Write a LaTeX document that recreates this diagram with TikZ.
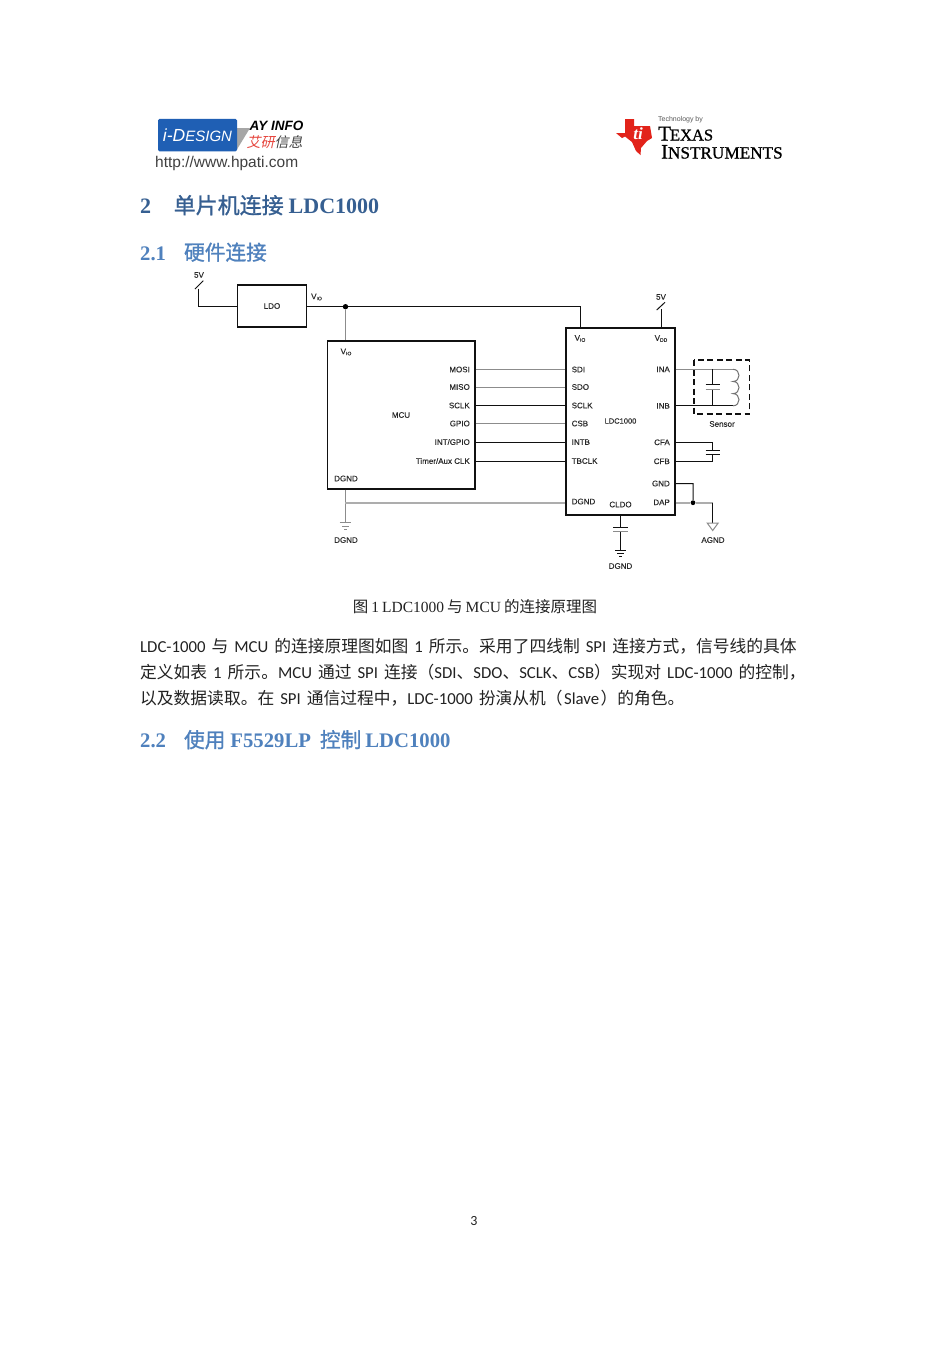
\documentclass[tikz,border=0pt]{standalone}
\usepackage{fontspec}
\setmainfont{Carlito}
\newfontfamily\cjkf{Noto Sans CJK SC}
\newfontfamily\cjkb[FakeBold=1.1]{Noto Sans CJK SC}
\newfontfamily\cjki[FakeSlant=0.22]{Noto Sans CJK SC}
\newfontfamily\arialf{Liberation Sans}
\newfontfamily\pinf[FakeBold=0.25]{Liberation Sans}
\newfontfamily\serf{Liberation Serif}
\newfontfamily\tifont[FakeBold=0.9]{Liberation Serif}
\newcommand\cj[1]{{\cjkf #1}}
\newcommand\cb[1]{{\cjkb\mdseries #1}}
\newcommand\fs[1]{\fontsize{#1}{#1}\selectfont}
\newcommand\vsub[1]{V{\fs{5}\raisebox{-1pt}{#1}}}
\newcommand\wsp{\hspace{6pt}}
\definecolor{hone}{HTML}{365F91}
\definecolor{htwo}{HTML}{4F81BD}
\definecolor{ink}{HTML}{222222}
\definecolor{wire}{HTML}{8C8C8C}
\definecolor{wiredk}{HTML}{111111}
\definecolor{label}{HTML}{2A2A2A}
\definecolor{tired}{HTML}{E2231A}
\definecolor{idblue}{HTML}{1F5FB4}
\tikzset{
  pinlbl/.style={font=\pinf\fs{8}, text=label, inner sep=0pt},
  pinl/.style={pinlbl, anchor=west},
  pinr/.style={pinlbl, anchor=east},
  ctr/.style={pinlbl},
  hwire/.style={line width=1pt, draw=wiredk},
  gwire/.style={line width=1pt, draw=wire},
  gthick/.style={line width=2pt, draw=black!32},
  chip/.style={draw=wiredk, line width=1.9pt, inner sep=0pt},
  plate/.style={line width=1pt, draw=wiredk},
  plateg/.style={line width=1pt, draw=wire},
  dot/.style={circle, fill=black, inner sep=0pt, minimum size=5.4pt},
  bodyline/.style={anchor=base west, inner sep=0pt, font=\fs{16.76}, text=ink},
  hh/.style={anchor=base west, inner sep=0pt, font=\serf\bfseries\fs{22}, text=hone},
  hhh/.style={anchor=base west, inner sep=0pt, font=\serf\bfseries\fs{20.7}, text=htwo},
}
\begin{document}
\begin{tikzpicture}[x=1pt,y=-1pt]
\useasboundingbox[fill=white] (0,0) rectangle (950,1345);

% i-Design logo
\fill[gray!70] (236,128) -- (250,128) -- (236,151) -- cycle;
\node[fill=idblue, rounded corners=1.5pt, minimum width=79pt, minimum height=32.5pt, inner sep=0pt, text=white,
  font=\arialf\itshape\fs{17.5}] (idlogo) at (197.5,135) {i-D{\fs{15}ESIGN}};
\node[inner sep=0pt, font=\arialf\bfseries\itshape\fs{13.5}, anchor=west] (ayinfo) at (249.5,125.5) {AY INFO};
\node[inner sep=0pt, font=\cjki\fs{14}, anchor=west] (aycn) at (246.5,142.5) {\textcolor{tired!85}{艾研}\textcolor{black!75}{信息}};
\node[inner sep=0pt, font=\arialf\fs{15.5}, text=black!75, anchor=west] (url) at (155,163.5) {http://www.hpati.com};

% TI logo
\fill[tired] (625,119) -- (634,119) -- (634,126) -- (650,126) -- (652,138) -- (647,141) -- (641,148) -- (640.5,155)
  -- (636,151) -- (632,142) -- (625,136.5) -- (622,138) -- (616,133) -- (625,133) -- cycle;
\node[inner sep=0pt, text=white, font=\serf\bfseries\itshape\fs{17}] (tiglyph) at (638,134) {ti};
\node[inner sep=0pt, font=\arialf\fs{7}, text=black!65] (tiby) at (680.5,120) {Technology by};
\node[inner sep=0pt, font=\tifont\fs{21}, anchor=base west] (titx) at (658,140.5) {T\hspace{-1pt}{\fs{16.5}EXAS}};
\node[inner sep=0pt, font=\tifont\fs{20.5}, anchor=base west] (tiin) at (661,158.5) {I{\fs{17.2}NSTRUMENTS}};

% headings
\node[hh] (h1) at (140,213.5) {2\hspace{22.5pt}\cb{单片机连接}\hspace{5pt}LDC1000};
\node[hhh] (h2) at (140,260) {2.1\hspace{18pt}\cb{硬件连接}};

% LDO
\node[chip, minimum width=69pt, minimum height=42pt] (ldo) at (272,306) {};
\node[ctr] (ldotxt) at (272,306) {LDO};
\node[ctr, anchor=west] (viotop) at (311,297) {\vsub{IO}};
\coordinate (vline) at (198,306.7);
\coordinate (sup1) at (198,288.5);
\node[ctr] (fivea) at (199,275) {5V};
\draw[hwire] (sup1) -- (vline) -- (ldo.west |- vline);
\draw[hwire] (195,289) -- (203.3,280.7);

% MCU
\node[chip, line width=1.2pt, minimum width=147.5pt, minimum height=148pt] (mcu) at (401.25,415) {};
\node[ctr] (mcutxt) at (401,415) {MCU};
\node[ctr] (mcuvio) at (346,352) {\vsub{IO}};
\node[pinr] (mMOSI) at (470,369.5) {MOSI};
\node[pinr] (mMISO) at (470,387) {MISO};
\node[pinr] (mSCLK) at (470,405.5) {SCLK};
\node[pinr] (mGPIO) at (470,423.5) {GPIO};
\node[pinr] (mINT) at (470,442) {INT/GPIO};
\node[pinr] (mTIM) at (470,461) {Timer/Aux CLK};
\node[pinl] (mDGND) at (334,478.5) {DGND};

% LDC1000
\node[chip, minimum width=108.7pt, minimum height=187.6pt] (ldc) at (620.35,421.5) {};
\node[ctr, font=\pinf\fs{7.5}] (ldctxt) at (620.5,421) {LDC1000};
\node[ctr] (lvio) at (580,338.5) {\vsub{IO}};
\node[ctr] (lvdd) at (661,338.5) {\vsub{DD}};
\node[pinl] (lSDI) at (571.5,369.5) {SDI};
\node[pinl] (lSDO) at (571.5,387) {SDO};
\node[pinl] (lSCLK) at (571.5,405.5) {SCLK};
\node[pinl] (lCSB) at (571.5,423.5) {CSB};
\node[pinl] (lINTB) at (571.5,442) {INTB};
\node[pinl] (lTB) at (571.5,461) {TBCLK};
\node[pinl] (lDGND) at (571.5,501.5) {DGND};
\node[ctr] (lCLDO) at (620.5,504.5) {CLDO};
\node[pinr] (lINA) at (670,369.3) {INA};
\node[pinr] (lINB) at (670,405.8) {INB};
\node[pinr] (lCFA) at (670,442.3) {CFA};
\node[pinr] (lCFB) at (670,461.3) {CFB};
\node[pinr] (lGND) at (670,483.5) {GND};
\node[pinr] (lDAP) at (670,502.3) {DAP};

% power rail
\node[dot] (j1) at (345.5,306.7) {};
\coordinate (railend) at (580,306.7);
\draw[hwire] (ldo.east |- j1) -- (j1) -- (railend) -- (railend |- ldc.north);
\draw[gwire] (j1) -- (j1 |- mcu.north);

% 5V at VDD
\coordinate (sup2) at (661.3,309);
\node[ctr] (fiveb) at (661,297) {5V};
\draw[hwire] (sup2) -- (sup2 |- ldc.north);
\draw[hwire] (656.7,310) -- (665,302.3);

% signals
\draw[gwire] (mcu.east |- mMOSI) -- (ldc.west |- lSDI);
\draw[gwire] (mcu.east |- mMISO) -- (ldc.west |- lSDO);
\draw[hwire] (mcu.east |- mSCLK) -- (ldc.west |- lSCLK);
\draw[gwire] (mcu.east |- mGPIO) -- (ldc.west |- lCSB);
\draw[hwire] (mcu.east |- mINT) -- (ldc.west |- lINTB);
\draw[hwire] (mcu.east |- mTIM) -- (ldc.west |- lTB);

% DGND of MCU
\coordinate (g1) at (345,522.7);
\coordinate (g1j) at (345,503);
\draw[gwire] (g1 |- mcu.south) -- (g1);
\draw[gthick] (g1j) -- (ldc.west |- g1j);
\draw[plateg] (339.5,522.7) -- (351,522.7) (342,526) -- (348.5,526) (344,529) -- (346.5,529);
\node[ctr] (dgnda) at (346,540) {DGND};

% sensor
\draw[dash pattern=on 6pt off 3.5pt, line width=1.3pt, draw=wiredk] (694,360) rectangle (749.3,414);
\node[ctr] (sensor) at (722,424) {Sensor};
\coordinate (cs) at (712.7,369.3);
\coordinate (csb) at (712.7,405.8);
\coordinate (ind) at (733,369.3);
\coordinate (ind2) at (733,381.47);
\coordinate (ind3) at (733,393.63);
\coordinate (indb) at (733,405.8);
\draw[gwire] (ldc.east |- lINA) -- (cs) -- (ind);
\draw[hwire] (ldc.east |- lINB) -- (csb) -- (indb);
\draw[hwire] (cs) -- (712.7,384.3) (712.7,389.7) -- (csb);
\draw[plate] (705.7,384.3) -- (720,384.3);
\draw[plateg] (705.7,389.7) -- (720,389.7);
\draw[line width=1pt, draw=black!55] (ind) .. controls (741,369.3) and (741,381.47) .. (ind2)
  .. controls (741,381.47) and (741,393.63) .. (ind3)
  .. controls (741,393.63) and (741,405.8) .. (indb);

% CFA / CFB
\coordinate (cfac) at (712.7,442.3);
\coordinate (cfbc) at (712.7,461.3);
\draw[hwire] (ldc.east |- lCFA) -- (cfac) -- (712.7,450);
\draw[hwire] (ldc.east |- lCFB) -- (cfbc) -- (712.7,454.3);
\draw[plate] (705.6,450) -- (720,450) (705.6,454.3) -- (720,454.3);

% GND/DAP
\node[dot, minimum size=4.8pt] (j2) at (693,502.7) {};
\coordinate (gndc) at (693,483.7);
\coordinate (dape) at (712.7,502.7);
\draw[gthick] (ldc.east |- j2) -- (j2) -- (dape);
\draw[hwire] (ldc.east |- lGND) -- (gndc) -- (j2);
\draw[hwire] (dape) -- (712.7,523);
\draw[line width=1pt, draw=wire] (707.2,523) -- (718.2,523) -- (712.7,530.5) -- cycle;
\node[ctr] (agnd) at (713,540) {AGND};

% CLDO
\coordinate (cl) at (620.3,527.3);
\draw[hwire] (cl |- ldc.south) -- (cl);
\draw[plate] (613,527.3) -- (627.7,527.3);
\draw[plateg] (613,531.5) -- (627.7,531.5);
\draw[hwire] (620.3,531.5) -- (620.3,550);
\draw[plate] (615,550) -- (625.5,550) (617,553.5) -- (623.5,553.5) (619,556.5) -- (621.5,556.5);
\node[ctr] (dgndb) at (620.5,566) {DGND};

% text
\node[inner sep=0pt, font=\serf\fs{15.5}, text=ink] (cap) at (475,607) {\cj{图}\hspace{3pt}1\hspace{3pt}LDC1000\hspace{3pt}\cj{与}\hspace{3pt}MCU\hspace{3pt}\cj{的连接原理图}};
\node[bodyline] (l1) at (140,652) {LDC-1000\wsp\cj{与}\wsp MCU\wsp\cj{的连接原理图如图}\wsp 1\wsp\cj{所示。采用了四线制}\wsp SPI\wsp\cj{连接方式，信号线的具体}};
\node[bodyline] (l2) at (140,678) {\cj{定义如表}\wsp 1\wsp\cj{所示。}MCU\wsp\cj{通过}\wsp SPI\wsp\cj{连接（}SDI\cj{、}SDO\cj{、}SCLK\cj{、}CSB\cj{）实现对}\wsp LDC-1000\wsp\cj{的控制，}};
\node[bodyline] (l3) at (140,704) {\cj{以及数据读取。在}\wsp SPI\wsp\cj{通信过程中，}LDC-1000\wsp\cj{扮演从机（}\hspace{1.5pt}Slave\hspace{1.5pt}\cj{）的角色。}};
\node[hhh] (h22) at (140,747.5) {2.2\hspace{18pt}\cb{使用}\hspace{5pt}F5529LP\hspace{9pt}\cb{控制}\hspace{4pt}LDC1000};
\node[inner sep=0pt, font=\fs{14}, text=ink] (pg) at (474,1221) {3};
\end{tikzpicture}
\end{document}
